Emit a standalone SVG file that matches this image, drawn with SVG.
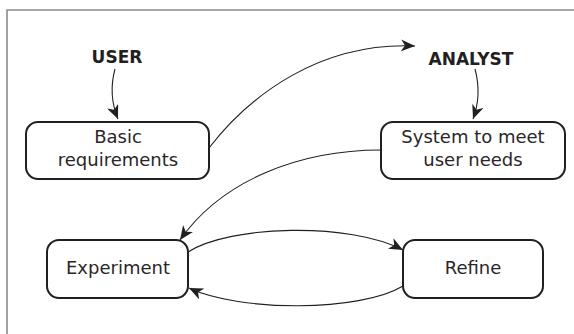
<svg xmlns="http://www.w3.org/2000/svg" width="574" height="334" viewBox="0 0 574 334">
<style>
.box{fill:#fff;stroke:#231f20;stroke-width:2}
.lbl{font-family:"DejaVu Sans",sans-serif;font-size:18px;fill:#2a2627;text-anchor:middle}
.hd{font-family:"DejaVu Sans",sans-serif;font-size:17px;font-weight:bold;fill:#231f20;text-anchor:middle}
.con{fill:none;stroke:#231f20;stroke-width:1.1}
</style>
<defs>
<marker id="ah" markerWidth="16" markerHeight="12" refX="14" refY="6" orient="auto" markerUnits="userSpaceOnUse">
<path d="M0,0 L14,6 L0,12 L4,6 Z" fill="#231f20"/>
</marker>
</defs>
<rect width="574" height="334" fill="#fff"/>
<path d="M7,334 L7,10 L574,10" fill="none" stroke="#8a8a8a" stroke-width="1.6"/>
<g id="connectors">
<path class="con" d="M115,69 Q108,95 118,119" marker-end="url(#ah)"/>
<path class="con" d="M475,69 Q482,95 473,119" marker-end="url(#ah)"/>
<path class="con" d="M209,148 C250,95 320,42 415,46" marker-end="url(#ah)"/>
<path class="con" d="M381,150 C300,150 222,180 180,240" marker-end="url(#ah)"/>
<path class="con" d="M188,252 C230,225 350,222 403,250" marker-end="url(#ah)"/>
<path class="con" d="M403,286 C360,312 240,312 189,288" marker-end="url(#ah)"/>
</g>
<g id="user"><text class="hd" x="117" y="63">USER</text></g>
<g id="analyst"><text class="hd" x="471" y="65">ANALYST</text></g>
<g id="basic">
<rect class="box" x="26" y="122" width="183" height="57" rx="12"/>
<text class="lbl" x="118" y="143">Basic</text>
<text class="lbl" x="118" y="166">requirements</text>
</g>
<g id="system">
<rect class="box" x="381" y="122" width="184" height="57" rx="12"/>
<text class="lbl" x="473" y="143">System to meet</text>
<text class="lbl" x="473" y="166">user needs</text>
</g>
<g id="experiment">
<rect class="box" x="47" y="240" width="141" height="58" rx="12"/>
<text class="lbl" x="118" y="274">Experiment</text>
</g>
<g id="refine">
<rect class="box" x="403" y="240" width="140" height="58" rx="12"/>
<text class="lbl" x="473" y="274">Refine</text>
</g>
</svg>
